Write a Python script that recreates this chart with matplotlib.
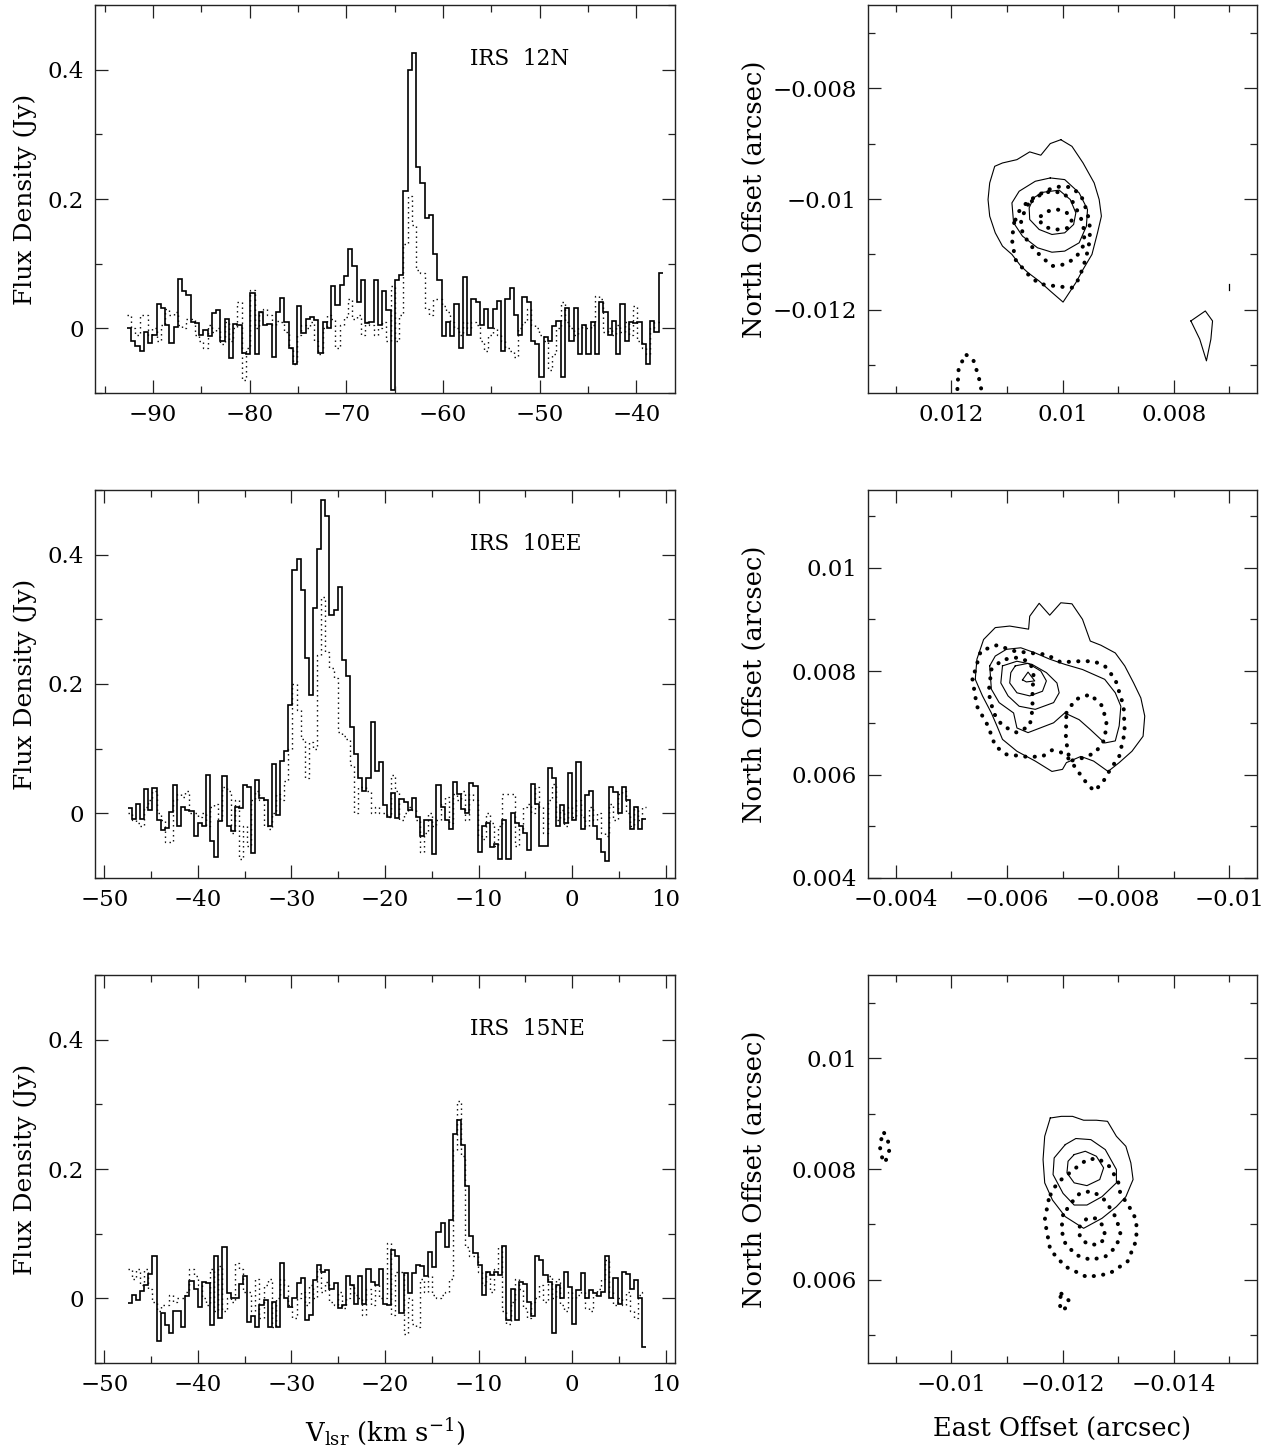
import numpy as np
import matplotlib
matplotlib.use("Agg")
import matplotlib.pyplot as plt
from matplotlib.ticker import MultipleLocator, FuncFormatter

plt.rcParams['font.family'] = ['DejaVu Serif']
plt.rcParams['mathtext.fontset'] = 'dejavuserif'

# ---------------- spectra data ----------------
chan_width = 0.44          # km/s
start_12n = -92.7          # first channel edge (km/s)
start_10ee = -47.5
start_15ne = -47.5

irs12n_solid = [
    0.0, -0.02, -0.028, -0.035, -0.005, -0.022, -0.01, 0.038, 0.032, 0.005,
    -0.022, 0.002, 0.077, 0.057, 0.052, 0.01, 0.008, -0.01, -0.003, -0.012,
    0.023, 0.028, -0.02, 0.015, -0.046, 0.007, 0.005, -0.038, -0.04, 0.055,
    -0.04, 0.025, 0.005, 0.007, -0.045, 0.025, 0.047, 0.01, -0.03, -0.055,
    0.035, -0.007, 0.015, 0.018, 0.013, -0.038, 0.01, 0.0, 0.065, 0.036,
    0.067, 0.081, 0.122, 0.097, 0.04, 0.075, 0.008, 0.01, 0.075, 0.005,
    0.057, 0.028, -0.095, 0.075, 0.083, 0.212, 0.40, 0.426, 0.25, 0.225,
    0.17, 0.175, 0.115, 0.075, -0.012, 0.01, -0.012, 0.037, -0.03, 0.08,
    -0.01, 0.045, 0.04, 0.005, 0.03, 0.0, 0.03, 0.042, -0.035, 0.045,
    0.062, 0.02, -0.01, 0.048, 0.04, -0.02, -0.025, -0.075, -0.013, -0.02,
    0.003, 0.012, -0.075, 0.032, -0.02, 0.032, -0.04, 0.005, -0.04, 0.01,
    -0.04, 0.04, 0.025, -0.01, 0.012, -0.04, 0.037, -0.02, 0.01, 0.008,
    0.01, -0.025, -0.055, 0.012, -0.005, 0.085]
irs12n_dotted = [
    0.02, 0.0, -0.01, 0.02, 0.02, -0.01, 0.0, -0.02, 0.005, 0.03,
    0.02, 0.025, 0.005, 0.0, 0.015, 0.015, -0.01, -0.02, -0.03, 0.005,
    -0.005, 0.0, -0.025, 0.01, -0.02, 0.0, 0.04, -0.08, -0.03, 0.06,
    0.0, 0.025, 0.03, 0.02, 0.005, 0.012, 0.01, -0.005, -0.03, -0.055,
    -0.01, 0.005, 0.0, 0.01, -0.02, -0.04, 0.0, 0.02, 0.015, -0.03,
    0.005, 0.018, 0.045, 0.015, 0.02, -0.01, 0.01, 0.005, -0.01, 0.0,
    0.01, -0.02, 0.065, -0.02, 0.02, 0.13, 0.205, 0.16, 0.09, 0.085,
    0.03, 0.02, 0.045, 0.045, 0.035, 0.025, 0.01, 0.0, -0.01, 0.01,
    0.0, 0.01, 0.005, -0.02, -0.035, -0.01, 0.0, -0.01, -0.02, -0.03,
    -0.035, -0.045, 0.0, 0.01, 0.03, 0.005, 0.0, -0.01, -0.02, -0.065,
    -0.04, 0.0, 0.04, 0.01, 0.0, -0.01, 0.0, 0.005, 0.0, 0.005,
    0.05, 0.045, -0.005, 0.0, -0.01, 0.005, -0.005, 0.01, -0.01, 0.035,
    -0.02, -0.03, -0.04, 0.0, 0.01, 0.01]

irs10ee_solid = [
    0.009, -0.008, 0.014, -0.009, 0.038, 0.005, 0.039, -0.01, -0.026, -0.023,
    0.002, 0.044, -0.02, 0.01, 0.005, 0.003, -0.035, -0.015, -0.02, 0.06,
    -0.043, -0.067, -0.012, 0.058, -0.02, -0.028, 0.01, 0.008, 0.044, 0.041,
    -0.062, 0.052, 0.023, 0.021, -0.02, 0.076, -0.003, 0.081, 0.096, 0.168,
    0.377, 0.394, 0.346, 0.24, 0.183, 0.318, 0.408, 0.484, 0.46, 0.306,
    0.315, 0.35, 0.237, 0.212, 0.134, 0.091, 0.055, 0.034, 0.055, 0.142,
    0.065, 0.08, 0.013, -0.006, 0.031, -0.007, 0.022, 0.018, 0.005, 0.023,
    -0.005, -0.035, -0.01, -0.01, -0.063, 0.044, 0.01, -0.01, -0.025, 0.048,
    0.03, 0.006, 0.0, 0.047, 0.043, -0.06, -0.02, -0.015, -0.052, -0.048,
    -0.07, -0.01, -0.07, 0.0, -0.015, -0.02, -0.03, -0.057, 0.045, 0.015,
    -0.05, -0.05, 0.07, 0.055, -0.02, 0.013, -0.015, 0.063, -0.01, 0.08,
    -0.025, 0.028, 0.035, -0.02, -0.04, -0.06, -0.073, 0.04, 0.033, 0.0,
    0.04, 0.02, -0.025, 0.01, -0.025, -0.008]
irs10ee_dotted = [
    0.0, -0.01, -0.015, -0.02, 0.01, 0.02, 0.035, 0.0, -0.01, -0.045,
    -0.045, 0.02, 0.03, 0.025, 0.035, 0.0, 0.0, -0.005, 0.0, -0.02,
    0.01, 0.015, -0.01, 0.04, 0.035, -0.03, 0.02, -0.07, -0.02, -0.05,
    0.02, 0.035, 0.02, -0.02, -0.025, 0.0, 0.03, 0.02, 0.05, 0.1,
    0.2, 0.16, 0.115, 0.055, 0.11, 0.1, 0.245, 0.335, 0.25, 0.225,
    0.21, 0.125, 0.12, 0.115, 0.075, 0.0, 0.04, 0.04, 0.035, 0.0,
    0.01, 0.0, 0.0, -0.005, 0.06, 0.035, -0.01, 0.0, 0.01, 0.005,
    -0.01, -0.06, -0.03, 0.0, -0.02, -0.01, 0.015, 0.025, -0.015, 0.03,
    0.02, 0.035, -0.01, 0.03, 0.02, -0.035, -0.04, 0.0, -0.015, -0.05,
    -0.02, 0.03, 0.03, 0.03, -0.05, -0.025, 0.01, 0.015, 0.0, 0.04,
    0.01, -0.03, 0.02, 0.045, -0.01, 0.005, -0.02, 0.01, -0.005, 0.02,
    -0.005, -0.02, 0.01, -0.01, 0.0, -0.03, -0.035, 0.015, -0.01, 0.03,
    0.035, 0.0, -0.02, 0.01, -0.01, 0.01]

irs15ne_solid = [
    -0.007, 0.005, -0.002, 0.012, 0.02, 0.038, 0.065, -0.066, -0.023, -0.041,
    -0.054, -0.02, -0.02, -0.044, 0.003, 0.027, 0.015, -0.014, 0.026, 0.023,
    -0.042, 0.066, -0.03, 0.08, 0.009, 0.0, 0.0, 0.022, 0.034, -0.036,
    -0.028, -0.044, -0.01, -0.002, -0.045, -0.005, -0.045, 0.054, 0.0, -0.013,
    0.0, 0.023, 0.031, -0.034, -0.026, 0.028, 0.052, 0.04, 0.044, 0.014,
    0.024, -0.015, -0.01, 0.034, 0.02, -0.008, 0.035, -0.008, 0.046, 0.026,
    0.021, 0.045, -0.008, -0.01, 0.075, 0.065, -0.023, 0.039, 0.008, 0.039,
    0.052, 0.05, 0.035, 0.072, 0.049, 0.103, 0.116, 0.08, 0.121, 0.254,
    0.276, 0.237, 0.174, 0.096, 0.07, 0.052, 0.005, 0.041, 0.036, 0.041,
    0.036, 0.081, -0.034, 0.015, -0.034, 0.026, 0.022, -0.005, -0.028, 0.065,
    0.06, 0.036, 0.025, -0.054, 0.021, 0.0, 0.041, 0.018, -0.039, 0.013,
    0.039, 0.0, 0.013, 0.009, 0.003, 0.01, 0.065, 0.0, 0.031, -0.008,
    0.041, 0.038, 0.014, 0.028, 0.0, -0.075]
irs15ne_dotted = [
    0.045, 0.03, 0.045, 0.02, 0.045, 0.015, -0.005, -0.02, -0.01, -0.01,
    0.005, -0.005, 0.0, 0.0, 0.01, 0.045, 0.035, 0.02, 0.0, -0.01,
    0.045, -0.02, 0.05, -0.02, 0.0, -0.005, 0.055, 0.045, 0.01, 0.01,
    -0.02, 0.03, -0.03, 0.02, 0.03, -0.045, 0.0, 0.03, 0.02, -0.01,
    -0.03, 0.0, 0.01, -0.01, 0.02, 0.0, 0.045, 0.01, 0.025, -0.005,
    -0.01, 0.01, -0.015, 0.0, 0.02, 0.005, 0.0, -0.025, 0.015, -0.01,
    0.02, 0.0, 0.0, 0.085, -0.025, 0.04, 0.04, -0.055, 0.0, -0.04,
    -0.045, 0.03, 0.01, 0.035, 0.005, 0.0, 0.005, 0.01, 0.03, 0.23,
    0.305, 0.22, 0.08, 0.065, 0.065, 0.04, 0.02, 0.04, 0.01, 0.045,
    0.08, -0.02, -0.04, -0.005, 0.03, 0.015, -0.015, -0.03, -0.005, 0.0,
    0.02, -0.005, 0.035, 0.0, 0.03, -0.01, -0.02, 0.01, 0.0, 0.005,
    0.01, -0.015, -0.02, 0.005, 0.015, 0.03, 0.06, 0.01, -0.01, 0.0,
    -0.01, 0.01, -0.02, -0.03, 0.005, 0.01]

spec_names = ["IRS 12N", "IRS 10EE", "IRS 15NE"]
spec_starts = [start_12n, start_10ee, start_15ne]
spec_solid = [irs12n_solid, irs10ee_solid, irs15ne_solid]
spec_dotted = [irs12n_dotted, irs10ee_dotted, irs15ne_dotted]
spec_xlim = [(-96, -36), (-51, 11), (-51, 11)]
spec_ylim = (-0.1, 0.5)

# ---------------- contour maps (vertices in mas: east, north) ----------------
# IRS 12N
c12_solid = [
    [(10.03, -8.93), (9.83, -9.05), (9.63, -9.35), (9.43, -9.71), (9.34, -10.01),
     (9.30, -10.31), (9.37, -10.61), (9.47, -11.00), (9.63, -11.27), (9.76, -11.51),
     (9.99, -11.86), (10.22, -11.66), (10.42, -11.48), (10.62, -11.33), (10.75, -11.21),
     (10.91, -11.00), (11.08, -10.85), (11.21, -10.61), (11.31, -10.31), (11.34, -10.01),
     (11.31, -9.71), (11.22, -9.41), (11.08, -9.35), (10.82, -9.29), (10.59, -9.15),
     (10.39, -9.21), (10.22, -9.00)],
    [(10.22, -9.62), (9.96, -9.65), (9.70, -9.89), (9.55, -10.19), (9.57, -10.49),
     (9.70, -10.79), (9.96, -10.94), (10.19, -10.96), (10.45, -10.88), (10.72, -10.67),
     (10.88, -10.43), (10.91, -10.07), (10.78, -9.86), (10.49, -9.68)],
    [(10.36, -9.88), (10.06, -9.84), (9.86, -10.01), (9.76, -10.25), (9.80, -10.46),
     (9.96, -10.61), (10.19, -10.64), (10.42, -10.55), (10.59, -10.37), (10.60, -10.16),
     (10.52, -9.98)],
    [(7.69, -12.20), (7.43, -12.02), (7.30, -12.20), (7.33, -12.53), (7.41, -12.92),
     (7.53, -12.53)],
]
c12_solid_open = [[(7.01, -11.54), (7.01, -11.64)]]
c12_dotted = [
    [(10.87, -10.43), (10.91, -10.73), (10.85, -11.09), (10.75, -11.21), (10.62, -11.36),
     (10.42, -11.53), (10.22, -11.56), (9.96, -11.59), (9.83, -11.60), (9.73, -11.48),
     (9.63, -11.24), (9.53, -10.88), (9.50, -10.55), (9.55, -10.25), (9.66, -9.95),
     (9.83, -9.79), (10.03, -9.77), (10.22, -9.82), (10.42, -9.92), (10.62, -10.04),
     (10.78, -10.22)],
    [(10.62, -10.10), (10.75, -10.37), (10.72, -10.61), (10.59, -10.82), (10.39, -11.03),
     (10.19, -11.21), (9.96, -11.18), (9.76, -11.06), (9.63, -10.85), (9.60, -10.61),
     (9.66, -10.37), (9.80, -10.07), (9.99, -9.89), (10.22, -9.86), (10.45, -9.95)],
    [(10.39, -10.31), (10.26, -10.22), (10.09, -10.19), (9.93, -10.24), (9.83, -10.37),
     (9.89, -10.52), (10.09, -10.55), (10.26, -10.52), (10.39, -10.43)],
]
c12_dotted_open = [[(11.90, -13.60), (11.89, -13.41), (11.87, -13.08), (11.75, -12.80),
                    (11.61, -12.89), (11.51, -13.20), (11.46, -13.44), (11.44, -13.60)]]

# IRS 10EE
c10_solid = [
    [(-5.43, 7.84), (-5.46, 8.23), (-5.58, 8.61), (-5.79, 8.84), (-6.05, 8.87),
     (-6.39, 8.81), (-6.41, 9.06), (-6.58, 9.31), (-6.77, 9.08), (-6.97, 9.32),
     (-7.17, 9.30), (-7.36, 9.00), (-7.50, 8.58), (-7.69, 8.50), (-7.95, 8.35),
     (-8.12, 8.10), (-8.28, 7.77), (-8.41, 7.48), (-8.48, 7.13), (-8.45, 6.74),
     (-8.25, 6.45), (-8.02, 6.23), (-7.82, 6.06), (-7.56, 6.26), (-7.33, 6.35),
     (-7.07, 6.23), (-7.00, 6.10), (-6.81, 6.06), (-6.51, 6.26), (-6.18, 6.45),
     (-5.92, 6.68), (-5.82, 6.94), (-5.72, 7.19), (-5.56, 7.52)],
    [(-5.69, 8.10), (-5.79, 8.29), (-5.99, 8.42), (-6.25, 8.45), (-6.51, 8.35),
     (-6.77, 8.23), (-7.04, 8.13), (-7.36, 8.03), (-7.76, 7.84), (-7.95, 7.58),
     (-8.05, 7.32), (-8.02, 6.94), (-7.95, 6.65), (-7.76, 6.61), (-7.50, 6.87),
     (-7.30, 7.06), (-7.04, 7.19), (-6.84, 7.00), (-6.38, 6.81), (-6.18, 6.90),
     (-6.12, 7.19), (-5.86, 7.39), (-5.72, 7.65)],
    [(-5.92, 8.10), (-6.18, 8.19), (-6.45, 8.13), (-6.71, 7.97), (-6.90, 7.77),
     (-6.94, 7.58), (-6.84, 7.39), (-6.51, 7.26), (-6.22, 7.32), (-6.02, 7.52),
     (-5.89, 7.77)],
    [(-6.15, 8.10), (-6.38, 8.15), (-6.61, 8.00), (-6.71, 7.81), (-6.64, 7.61),
     (-6.41, 7.52), (-6.18, 7.58), (-6.05, 7.77), (-6.07, 7.97)],
    [(-6.28, 7.83), (-6.38, 7.98), (-6.50, 7.81), (-6.35, 7.79)],
]
c10_dotted = [
    [(-5.38, 7.84), (-5.46, 7.32), (-5.66, 6.94), (-5.79, 6.55), (-5.99, 6.39),
     (-6.38, 6.34), (-6.64, 6.35), (-6.81, 6.47), (-6.97, 6.43), (-7.13, 6.29),
     (-7.30, 6.03), (-7.43, 5.84), (-7.57, 5.68), (-7.72, 5.84), (-7.86, 6.10),
     (-8.02, 6.35), (-8.12, 6.81), (-8.10, 7.32), (-7.95, 7.84), (-7.76, 8.10),
     (-7.56, 8.19), (-7.30, 8.19), (-6.97, 8.17), (-6.71, 8.32), (-6.41, 8.35),
     (-6.12, 8.39), (-5.82, 8.50), (-5.53, 8.39)],
    [(-7.07, 7.19), (-7.23, 7.45), (-7.50, 7.55), (-7.72, 7.32), (-7.79, 7.00),
     (-7.76, 6.68), (-7.59, 6.42), (-7.36, 6.32), (-7.13, 6.26), (-7.06, 6.68)],
    [(-5.72, 8.03), (-5.92, 8.22), (-6.18, 8.26), (-6.41, 8.18), (-6.48, 7.97),
     (-6.46, 7.58), (-6.46, 7.26), (-6.41, 6.94), (-6.18, 6.81), (-5.92, 6.94),
     (-5.76, 7.19), (-5.67, 7.58)],
]

# IRS 15NE
c15_solid = [
    [(-11.78, 8.92), (-11.98, 8.95), (-12.18, 8.95), (-12.38, 8.88), (-12.61, 8.88),
     (-12.81, 8.86), (-12.97, 8.59), (-13.14, 8.41), (-13.23, 8.11), (-13.27, 7.81),
     (-13.14, 7.50), (-12.97, 7.32), (-12.71, 7.11), (-12.38, 6.93), (-12.05, 7.14),
     (-11.82, 7.44), (-11.68, 7.75), (-11.65, 8.17), (-11.68, 8.59)],
    [(-12.05, 8.44), (-12.24, 8.55), (-12.51, 8.53), (-12.77, 8.35), (-12.97, 7.99),
     (-12.97, 7.75), (-12.71, 7.50), (-12.44, 7.35), (-12.21, 7.35), (-12.01, 7.56),
     (-11.83, 7.90), (-11.85, 8.20)],
    [(-12.21, 8.26), (-12.41, 8.32), (-12.61, 8.23), (-12.74, 8.02), (-12.67, 7.81),
     (-12.44, 7.70), (-12.21, 7.75), (-12.08, 7.93), (-12.10, 8.14)],
]
c15_dotted = [
    [(-11.75, 7.44), (-11.68, 7.08), (-11.78, 6.54), (-12.05, 6.24), (-12.44, 6.05),
     (-12.84, 6.11), (-13.17, 6.33), (-13.33, 6.72), (-13.33, 7.08), (-13.20, 7.32),
     (-13.04, 7.56), (-13.00, 7.78), (-12.84, 8.05), (-12.64, 8.19), (-12.44, 8.17),
     (-12.24, 8.02), (-11.98, 7.81), (-11.82, 7.63)],
    [(-12.01, 7.17), (-11.98, 6.90), (-12.05, 6.66), (-12.24, 6.45), (-12.51, 6.36),
     (-12.77, 6.42), (-12.97, 6.60), (-13.04, 6.84), (-12.97, 7.11), (-12.84, 7.32),
     (-12.71, 7.50), (-12.51, 7.60), (-12.31, 7.56), (-12.15, 7.38)],
    [(-12.31, 6.96), (-12.44, 7.11), (-12.61, 7.11), (-12.74, 6.96), (-12.77, 6.75),
     (-12.64, 6.63), (-12.44, 6.65), (-12.31, 6.78)],
    [(-8.79, 8.65), (-8.86, 8.50), (-8.89, 8.36), (-8.84, 8.20), (-8.80, 8.11),
     (-8.73, 8.26), (-8.71, 8.47)],
    [(-11.98, 5.75), (-12.11, 5.63), (-12.08, 5.51), (-11.98, 5.44), (-11.94, 5.60)],
]

map_solid = [c12_solid, c10_solid, c15_solid]
map_solid_open = [c12_solid_open, [], []]
map_dotted = [c12_dotted, c10_dotted, c15_dotted]
map_dotted_open = [c12_dotted_open, [], []]
map_xlim = [(0.0135, 0.0065), (-0.0035, -0.0105), (-0.0085, -0.0155)]
map_ylim = [(-0.0135, -0.0065), (0.004, 0.0115), (0.0045, 0.0115)]

# ---------------- figure ----------------
W, H = 1270, 1453
fig = plt.figure(figsize=(W / 100, H / 100), dpi=100)

rows_px = [(5, 393), (490, 878), (975, 1363)]
left_px = (95, 675)
right_px = (868, 1257)

def fmt(v, pos=None):
    s = '%g' % round(v, 6)
    if s == '-0':
        s = '0'
    return s.replace('-', '\u2212')

def style_axes(ax, xmaj, xmin, ymaj, ymin):
    ax.xaxis.set_major_locator(MultipleLocator(xmaj))
    ax.xaxis.set_minor_locator(MultipleLocator(xmin))
    ax.yaxis.set_major_locator(MultipleLocator(ymaj))
    ax.yaxis.set_minor_locator(MultipleLocator(ymin))
    ax.xaxis.set_major_formatter(FuncFormatter(fmt))
    ax.yaxis.set_major_formatter(FuncFormatter(fmt))
    ax.tick_params(which='both', direction='in', top=True, right=True,
                   color='#222222', width=0.9, labelsize=16.5, pad=8)
    ax.tick_params(which='major', length=9.5)
    ax.tick_params(which='minor', length=5)
    for sp in ax.spines.values():
        sp.set_linewidth(1.0)
        sp.set_color('#222222')

def ax_rect(xpx, ypx):
    x0, x1 = xpx
    y0, y1 = ypx
    return [x0 / W, 1 - y1 / H, (x1 - x0) / W, (y1 - y0) / H]

for r in range(3):
    # spectrum panel
    ax = fig.add_axes(ax_rect(left_px, rows_px[r]))
    n = len(spec_solid[r])
    edges = spec_starts[r] + chan_width * np.arange(n + 1)
    ax.stairs(spec_solid[r], edges, baseline=None, color='black', linewidth=1.2)
    ax.stairs(spec_dotted[r], edges, baseline=None, color='black', linewidth=1.0,
              linestyle=(0, (1, 2.6)))
    ax.set_xlim(*spec_xlim[r])
    ax.set_ylim(*spec_ylim)
    style_axes(ax, 10, 5, 0.2, 0.1)
    ax.text(0.647, 0.862, spec_names[r].replace(' ', '  '), transform=ax.transAxes,
            ha='left', va='center', fontsize=15.5)

    # map panel
    axm = fig.add_axes(ax_rect(right_px, rows_px[r]))
    for poly in map_solid[r]:
        xs = [p[0] / 1000.0 for p in poly] + [poly[0][0] / 1000.0]
        ys = [p[1] / 1000.0 for p in poly] + [poly[0][1] / 1000.0]
        axm.plot(xs, ys, color='black', linewidth=0.8)
    for poly in map_solid_open[r]:
        axm.plot([p[0] / 1000.0 for p in poly], [p[1] / 1000.0 for p in poly],
                 color='black', linewidth=0.9)
    for poly in map_dotted[r]:
        xs = [p[0] / 1000.0 for p in poly] + [poly[0][0] / 1000.0]
        ys = [p[1] / 1000.0 for p in poly] + [poly[0][1] / 1000.0]
        axm.plot(xs, ys, color='black', linewidth=2.9, linestyle=(0, (0.05, 2.3)),
                 dash_capstyle='round')
    for poly in map_dotted_open[r]:
        axm.plot([p[0] / 1000.0 for p in poly], [p[1] / 1000.0 for p in poly],
                 color='black', linewidth=2.9, linestyle=(0, (0.05, 2.3)),
                 dash_capstyle='round')
    axm.set_xlim(*map_xlim[r])
    axm.set_ylim(*map_ylim[r])
    style_axes(axm, 0.002, 0.001, 0.002, 0.001)

    yc = 1 - (rows_px[r][0] + rows_px[r][1]) / 2 / H
    fig.text(25 / W, yc, 'Flux Density (Jy)', rotation=90, ha='center',
             va='center', fontsize=18)
    fig.text(754 / W, yc, 'North Offset (arcsec)', rotation=90, ha='center',
             va='center', fontsize=18.5)

fig.text(385 / W, 1 - 1432 / H, r'V$_{\rm lsr}$ (km s$^{-1}$)', ha='center',
         va='center', fontsize=18.5)
fig.text(1062 / W, 1 - 1428 / H, 'East Offset (arcsec)', ha='center',
         va='center', fontsize=18.5)

fig.savefig('out.png', dpi=100)
